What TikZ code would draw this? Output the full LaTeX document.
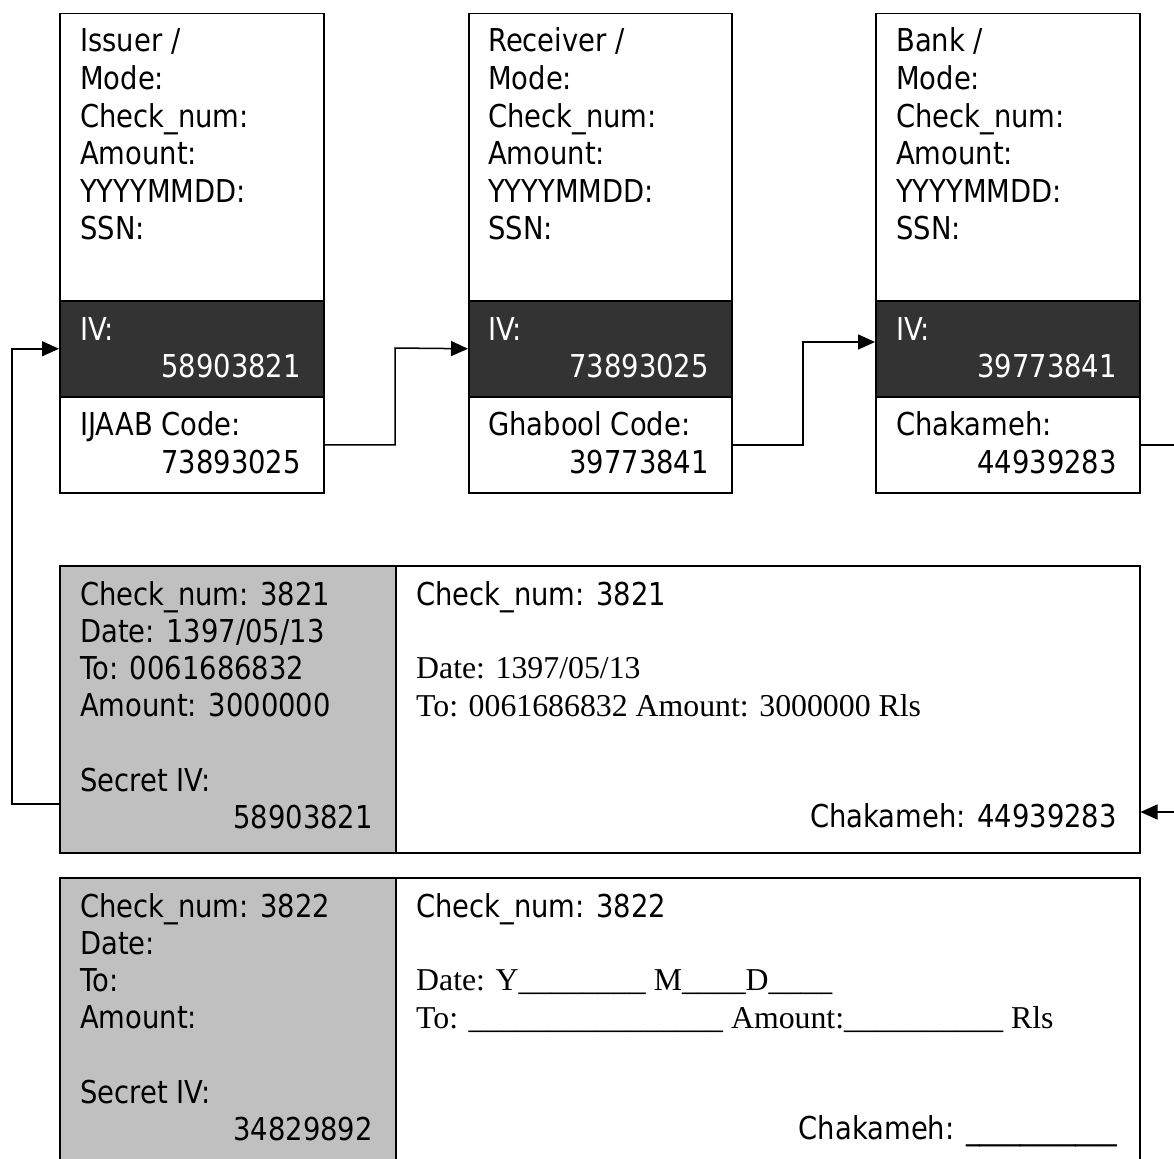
\documentclass[tikz,border=0pt]{standalone}
\usepackage{fontspec}
\usetikzlibrary{arrows.meta}
\newfontfamily\sansf[FakeStretch=0.87]{DejaVu Sans}
\newfontfamily\seriff{Liberation Serif}
\definecolor{darkband}{HTML}{333333}
\definecolor{stubgray}{HTML}{C0C0C0}
\tikzset{
  box/.style={draw=black, line width=1.5pt, rectangle, inner sep=0pt, anchor=north west},
  lbl/.style={anchor=base west, inner sep=0pt, font=\sansf\fontsize{31.5}{37}\selectfont},
  numr/.style={anchor=base east, inner sep=0pt, font=\sansf\fontsize{31.5}{37}\selectfont},
  ser/.style={anchor=base west, inner sep=0pt, font=\seriff\fontsize{31.8}{38}\selectfont},
  conn/.style={line width=1.5pt},
  arr/.style={conn, -{Triangle[length=17pt,width=15pt]}}
}
\begin{document}
\begin{tikzpicture}[x=1pt,y=-1pt]
\useasboundingbox (0,0) rectangle (1174,1158);
% ---- top boxes ----
\node[box, minimum width=264pt, minimum height=287pt] (b1top) at (59,13) {};
\node[box, fill=darkband, minimum width=264pt, minimum height=96pt] (b1iv) at (59,300) {};
\node[box, minimum width=264pt, minimum height=96pt] (b1code) at (59,396) {};
\node[box, minimum width=263pt, minimum height=287pt] (b2top) at (468,13) {};
\node[box, fill=darkband, minimum width=263pt, minimum height=96pt] (b2iv) at (468,300) {};
\node[box, minimum width=263pt, minimum height=96pt] (b2code) at (468,396) {};
\node[box, minimum width=264pt, minimum height=287pt] (b3top) at (875,13) {};
\node[box, fill=darkband, minimum width=264pt, minimum height=96pt] (b3iv) at (875,300) {};
\node[box, minimum width=264pt, minimum height=96pt] (b3code) at (875,396) {};
% texts box 1
\node[lbl] (t1a) at (80,52) {Issuer /};
\node[lbl] (t1b) at (80,89.6) {Mode:};
\node[lbl] (t1c) at (80,127.2) {Check\_num:};
\node[lbl] (t1d) at (80,164.8) {Amount:};
\node[lbl] (t1e) at (80,202.4) {YYYYMMDD:};
\node[lbl] (t1f) at (80,240) {SSN:};
\node[lbl, text=white] (t1g) at (80,340) {IV:};
\node[numr, text=white] (t1h) at (301,377) {58903821};
\node[lbl] (t1i) at (80,435) {IJAAB Code:};
\node[numr] (t1j) at (301,473) {73893025};
% texts box 2
\node[lbl] (t2a) at (488,52) {Receiver /};
\node[lbl] (t2b) at (488,89.6) {Mode:};
\node[lbl] (t2c) at (488,127.2) {Check\_num:};
\node[lbl] (t2d) at (488,164.8) {Amount:};
\node[lbl] (t2e) at (488,202.4) {YYYYMMDD:};
\node[lbl] (t2f) at (488,240) {SSN:};
\node[lbl, text=white] (t2g) at (488,340) {IV:};
\node[numr, text=white] (t2h) at (709,377) {73893025};
\node[lbl] (t2i) at (488,435) {Ghabool Code:};
\node[numr] (t2j) at (709,473) {39773841};
% texts box 3
\node[lbl] (t3a) at (896,52) {Bank /};
\node[lbl] (t3b) at (896,89.6) {Mode:};
\node[lbl] (t3c) at (896,127.2) {Check\_num:};
\node[lbl] (t3d) at (896,164.8) {Amount:};
\node[lbl] (t3e) at (896,202.4) {YYYYMMDD:};
\node[lbl] (t3f) at (896,240) {SSN:};
\node[lbl, text=white] (t3g) at (896,340) {IV:};
\node[numr, text=white] (t3h) at (1117,377) {39773841};
\node[lbl] (t3i) at (896,435) {Chakameh:};
\node[numr] (t3j) at (1117,473) {44939283};
% ---- check 1 ----
\node[box, fill=stubgray, minimum width=336pt, minimum height=287pt] (c1l) at (59,565) {};
\node[box, minimum width=744pt, minimum height=287pt] (c1r) at (395,565) {};
\node[lbl] (c1a) at (80,605) {Check\_num: 3821};
\node[lbl] (c1b) at (80,642.3) {Date: 1397/05/13};
\node[lbl] (c1c) at (80,679.6) {To: 0061686832};
\node[lbl] (c1d) at (80,716.9) {Amount: 3000000};
\node[lbl] (c1e) at (80,791.5) {Secret IV:};
\node[numr] (c1f) at (373,828.8) {58903821};
\node[lbl] (c1g) at (416,605) {Check\_num: 3821};
\node[ser] (c1h) at (416,678.5) {Date: 1397/05/13};
\node[ser] (c1i) at (416,716) {To: 0061686832 Amount: 3000000 Rls};
\node[numr] (c1j) at (1117,827) {Chakameh: 44939283};
% ---- check 2 ----
\node[box, fill=stubgray, minimum width=336pt, minimum height=286pt] (c2l) at (59,877) {};
\node[box, minimum width=744pt, minimum height=286pt] (c2r) at (395,877) {};
\node[lbl] (c2a) at (80,917) {Check\_num: 3822};
\node[lbl] (c2b) at (80,954.3) {Date:};
\node[lbl] (c2c) at (80,991.6) {To:};
\node[lbl] (c2d) at (80,1028.9) {Amount:};
\node[lbl] (c2e) at (80,1103.5) {Secret IV:};
\node[numr] (c2f) at (373,1140.8) {34829892};
\node[lbl] (c2g) at (416,917) {Check\_num: 3822};
\node[ser] (c2h) at (416,990.5) {Date: Y\_\_\_\_\_\_\_\_ M\_\_\_\_D\_\_\_\_};
\node[ser] (c2i) at (416,1028) {To: \_\_\_\_\_\_\_\_\_\_\_\_\_\_\_\_ Amount:\_\_\_\_\_\_\_\_\_\_ Rls};
\node[numr] (c2j) at (1117,1139) {Chakameh: \_\_\_\_\_\_\_\_\_\_\_};
% ---- connectors ----
\coordinate (j1) at (395,348);
\draw[arr] (b1code.east) -| (j1) -- (b2iv.west);
\coordinate (j2) at (803,342);
\draw[arr] (b2code.east) -| (j2) -- (j2 -| b3iv.west);
\coordinate (j4) at (1195,812);
\draw[arr] (b3code.east) -| (j4) -- (j4 -| c1r.east);
\coordinate (j5) at (12,804);
\draw[arr] (j5 -| c1l.west) -- (j5) |- (b1iv.west);
\end{tikzpicture}
\end{document}
